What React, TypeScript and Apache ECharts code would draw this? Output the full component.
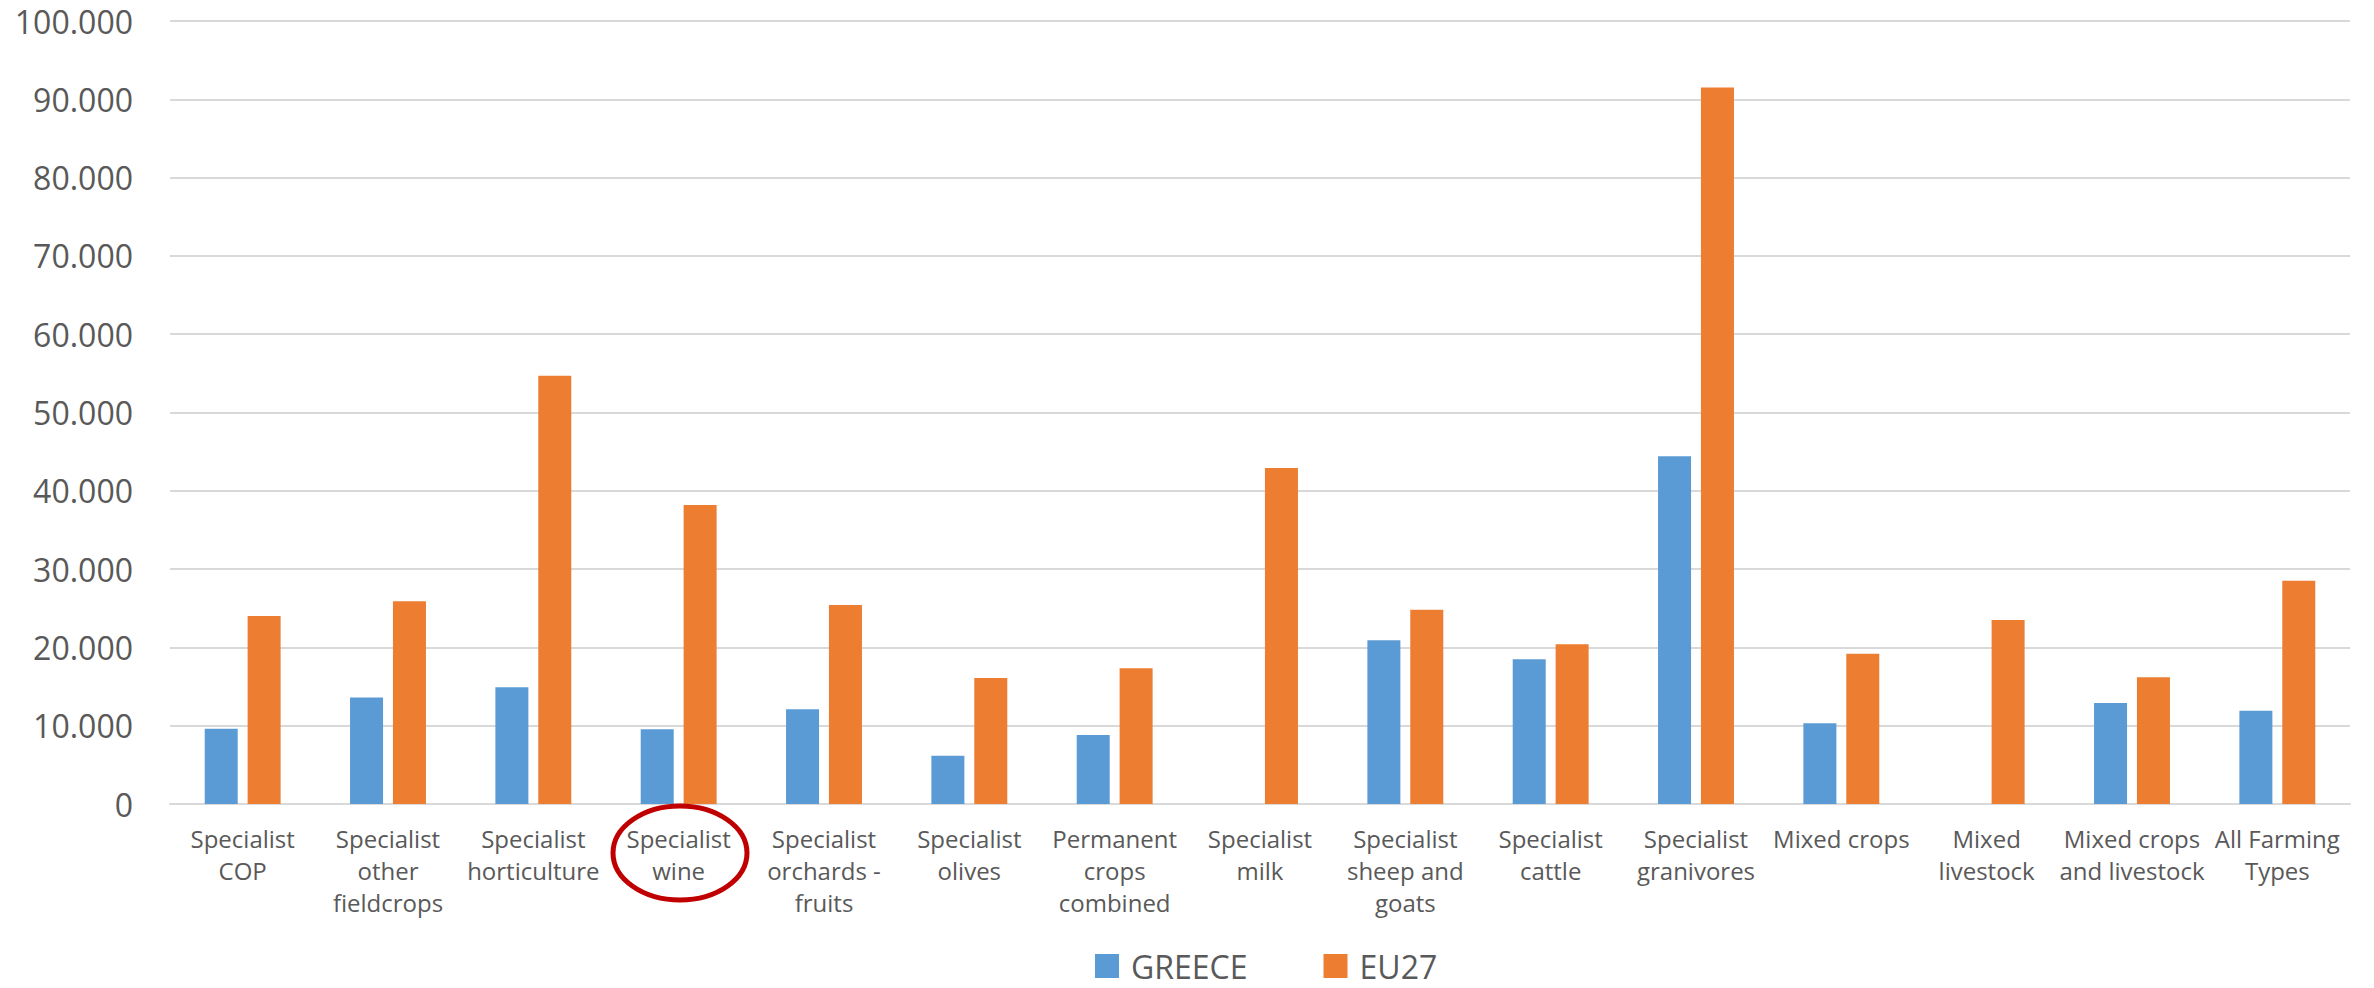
import React, { useEffect, useRef } from "react";
import * as echarts from "echarts";

const categories = [
  "Specialist\nCOP",
  "Specialist\nother\nfieldcrops",
  "Specialist\nhorticulture",
  "Specialist\nwine",
  "Specialist\norchards -\nfruits",
  "Specialist\nolives",
  "Permanent\ncrops\ncombined",
  "Specialist\nmilk",
  "Specialist\nsheep and\ngoats",
  "Specialist\ncattle",
  "Specialist\ngranivores",
  "Mixed crops",
  "Mixed\nlivestock",
  "Mixed crops\nand livestock",
  "All Farming\nTypes",
];

const greece = [9600, 13600, 14900, 9550, 12100, 6150, 8800, 0, 20900, 18500, 44400, 10300, 0, 12900, 11900];
const eu27 = [24000, 25900, 54700, 38200, 25400, 16100, 17350, 42900, 24800, 20400, 91500, 19200, 23500, 16200, 28500];

const seriesNames = ["GREECE", "EU27"];
const yMin = 0;
const yMax = 100000;
const yInterval = 10000;

export default function App() {
  const ref = useRef<HTMLDivElement>(null);
  useEffect(() => {
    if (!ref.current) return;
    const chart = echarts.init(ref.current, undefined, { renderer: "svg" });
    const font = "'Open Sans', sans-serif";
    chart.setOption({
      animation: false,
      backgroundColor: "#ffffff",
      grid: { left: 170, right: 24, top: 21, bottom: 184, containLabel: false },
      legend: {
        data: seriesNames,
        left: 1095,
        top: 950,
        padding: 0,
        icon: "rect",
        itemWidth: 24,
        itemHeight: 24,
        itemGap: 76,
        textStyle: { fontFamily: font, fontSize: 32, lineHeight: 32, color: "#595959", padding: [0, 0, 0, 7] },
      },
      xAxis: {
        type: "category",
        data: categories,
        axisLine: { show: true, lineStyle: { color: "#d9d9d9", width: 2 } },
        axisTick: { show: false },
        axisLabel: {
          interval: 0,
          fontFamily: font,
          fontSize: 24,
          lineHeight: 32,
          color: "#595959",
          margin: 18,
          align: "center",
        },
      },
      yAxis: {
        type: "value",
        min: yMin,
        max: yMax,
        interval: yInterval,
        axisLine: { show: false },
        axisTick: { show: false },
        splitLine: { lineStyle: { color: "#d9d9d9", width: 2 } },
        axisLabel: {
          fontFamily: font,
          fontSize: 32,
          color: "#595959",
          margin: 37,
          formatter: (v: number) => (v === 0 ? "0" : (v / 1000).toFixed(3)),
        },
      },
      series: [
        {
          name: seriesNames[0],
          type: "bar",
          data: greece,
          barWidth: 33,
          barGap: "30%",
          itemStyle: { color: "#5B9BD5" },
        },
        {
          name: seriesNames[1],
          type: "bar",
          data: eu27,
          barWidth: 33,
          barGap: "30%",
          itemStyle: { color: "#ED7D31" },
        },
      ],
      graphic: [
        {
          type: "ellipse",
          shape: { cx: 680, cy: 853, rx: 67, ry: 47 },
          style: { fill: "none", stroke: "#C00000", lineWidth: 5 },
          z: 100,
        },
      ],
    });
    return () => chart.dispose();
  }, []);
  return (
    <div
      ref={ref}
      style={{ position: "fixed", left: 0, top: 0, width: 2374, height: 988, background: "#fff" }}
    />
  );
}
